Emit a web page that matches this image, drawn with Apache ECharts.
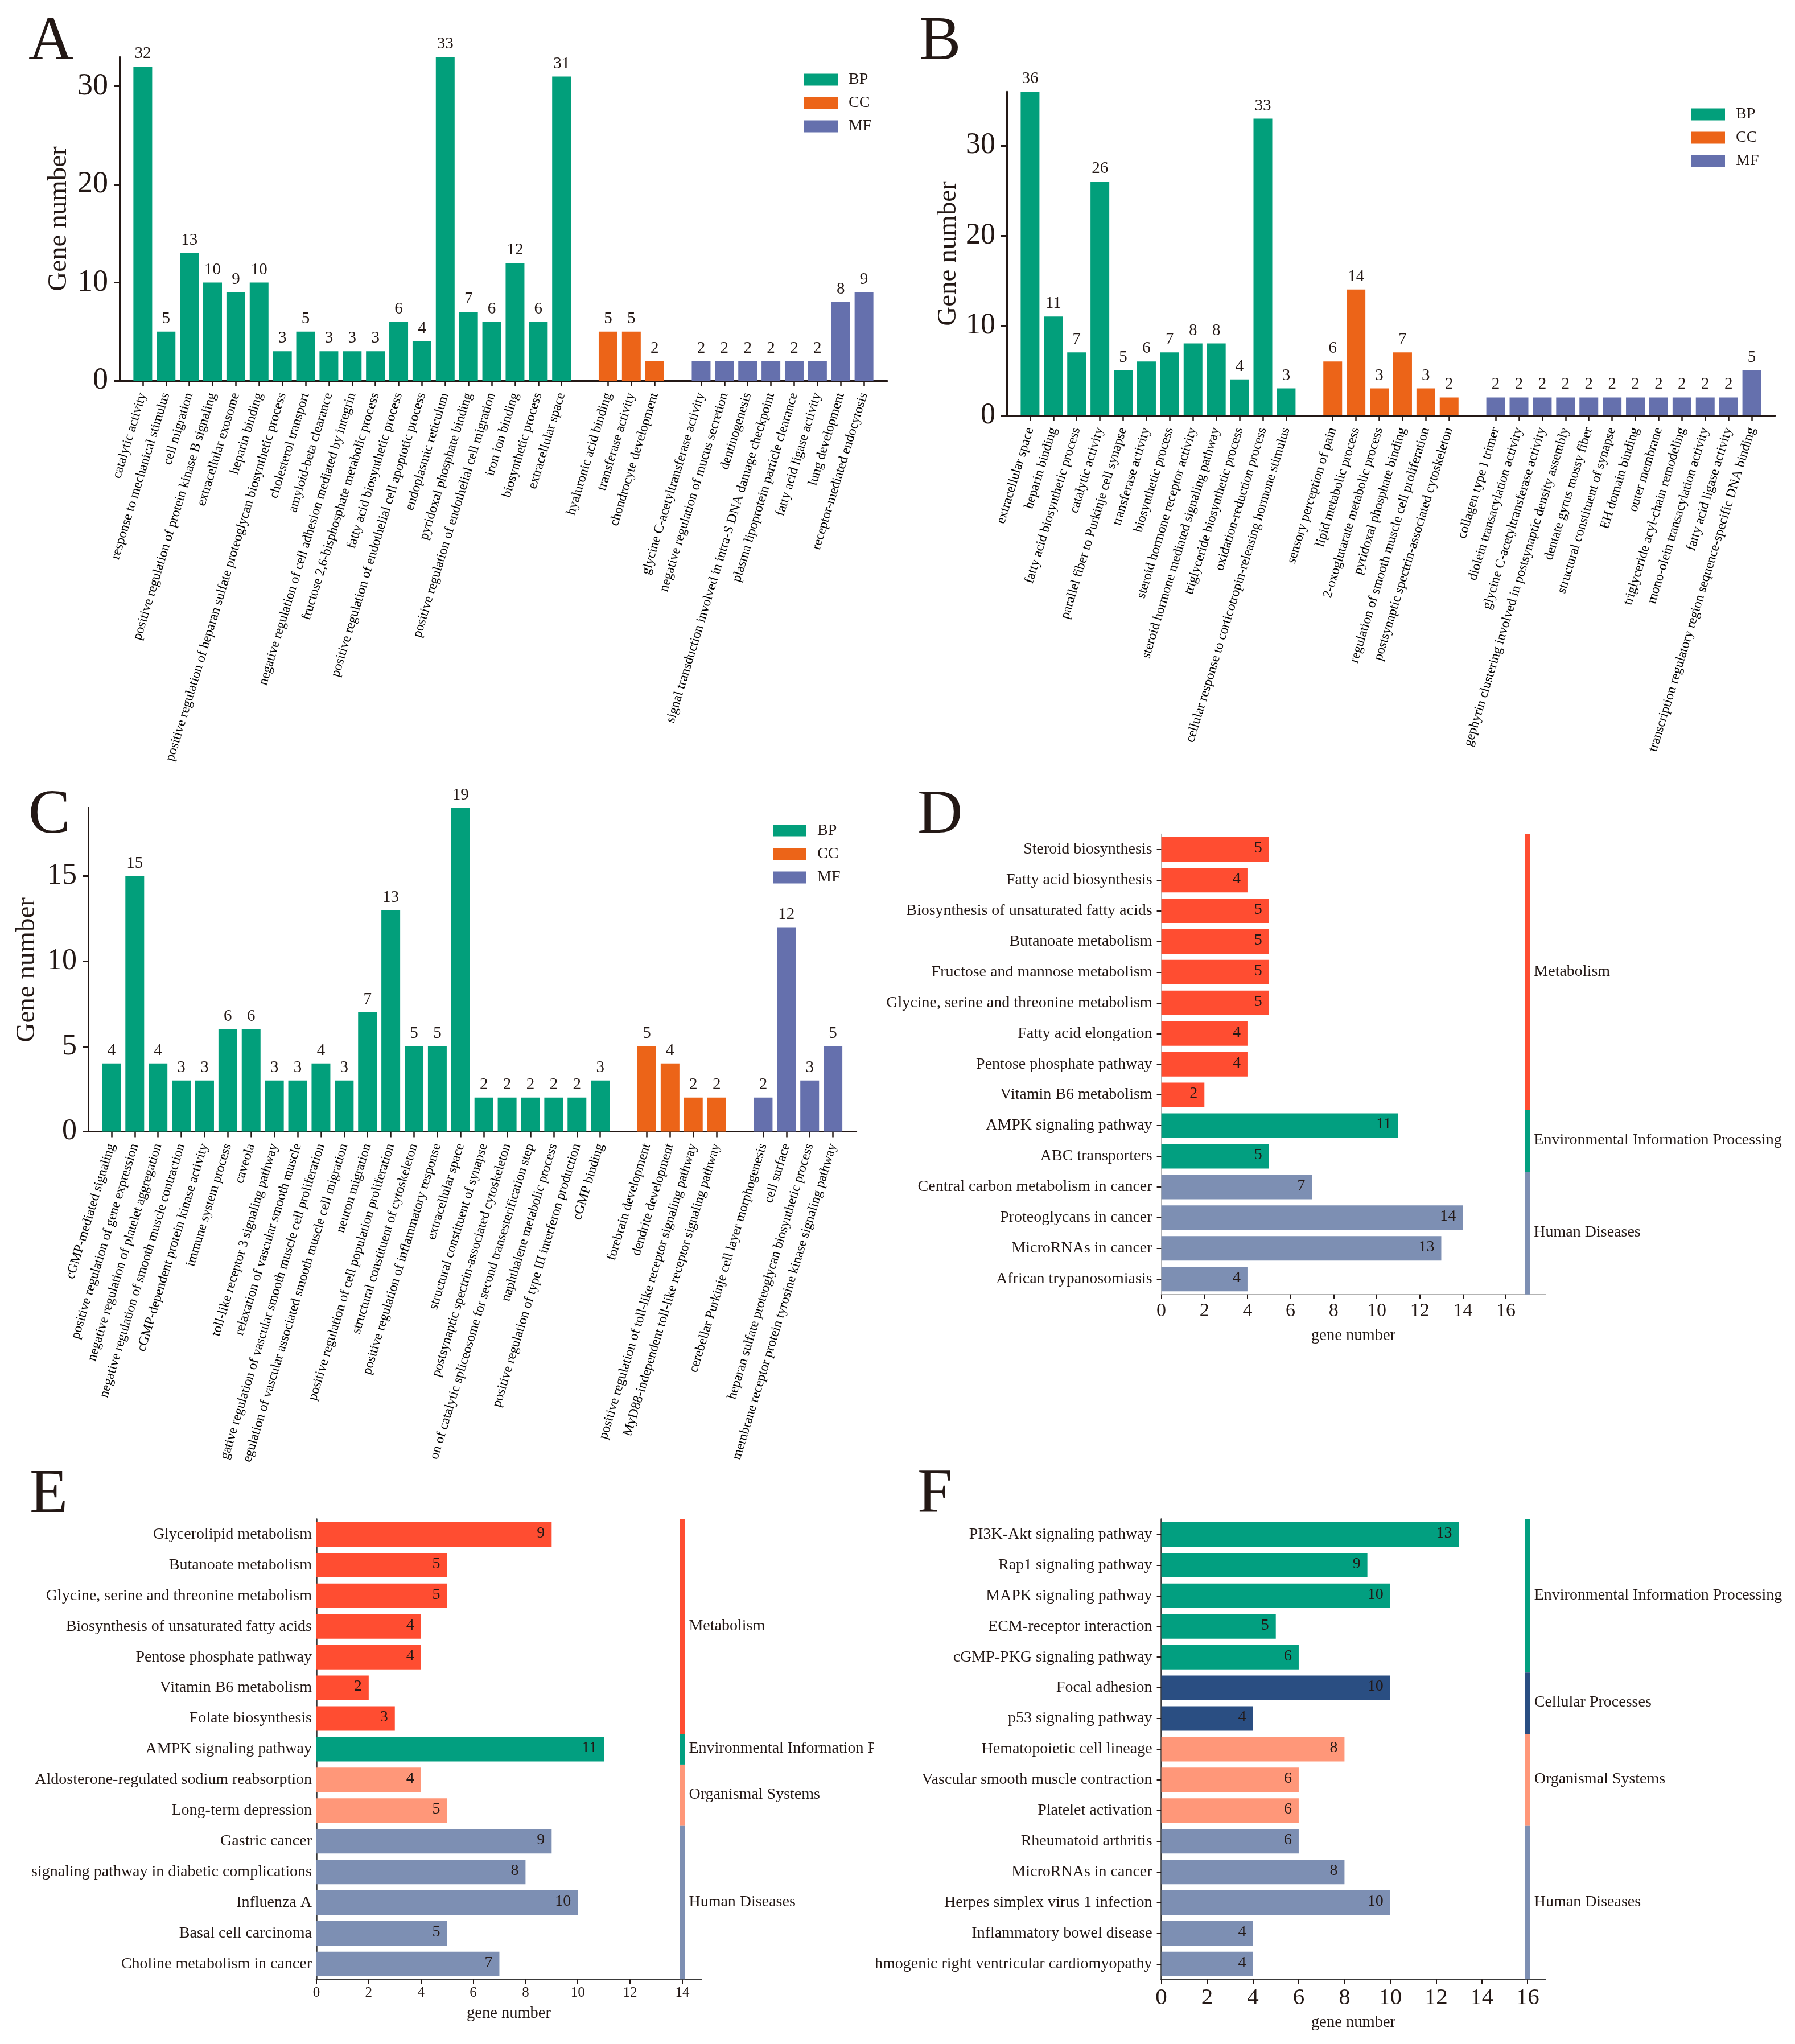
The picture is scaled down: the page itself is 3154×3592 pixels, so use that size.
<!DOCTYPE html>
<html><head><meta charset="utf-8">
<style>html,body{margin:0;padding:0;background:#fff}#c{width:3154px;height:3592px}</style>
<script src="https://cdn.jsdelivr.net/npm/echarts@6/dist/echarts.min.js"></script>
</head><body><div id="c"></div>
<script>
const aBpNames=["catalytic activity","response to mechanical stimulus","cell migration","positive regulation of protein kinase B signaling","extracellular exosome","heparin binding","positive regulation of heparan sulfate proteoglycan biosynthetic process","cholesterol transport","amyloid-beta clearance","negative regulation of cell adhesion mediated by integrin","fructose 2,6-bisphosphate metabolic process","fatty acid biosynthetic process","positive regulation of endothelial cell apoptotic process","endoplasmic reticulum","pyridoxal phosphate binding","positive regulation of endothelial cell migration","iron ion binding","biosynthetic process","extracellular space"];
const aBpValues=[32,5,13,10,9,10,3,5,3,3,3,6,4,33,7,6,12,6,31];
const aCcNames=["hyaluronic acid binding","transferase activity","chondrocyte development"];
const aCcValues=[5,5,2];
const aMfNames=["glycine C-acetyltransferase activity","negative regulation of mucus secretion","dentinogenesis","signal transduction involved in intra-S DNA damage checkpoint","plasma lipoprotein particle clearance","fatty acid ligase activity","lung development","receptor-mediated endocytosis"];
const aMfValues=[2,2,2,2,2,2,8,9];

const bBpNames=["extracellular space","heparin binding","fatty acid biosynthetic process","catalytic activity","parallel fiber to Purkinje cell synapse","transferase activity","biosynthetic process","steroid hormone receptor activity","steroid hormone mediated signaling pathway","triglyceride biosynthetic process","oxidation-reduction process","cellular response to corticotropin-releasing hormone stimulus"];
const bBpValues=[36,11,7,26,5,6,7,8,8,4,33,3];
const bCcNames=["sensory perception of pain","lipid metabolic process","2-oxoglutarate metabolic process","pyridoxal phosphate binding","regulation of smooth muscle cell proliferation","postsynaptic spectrin-associated cytoskeleton"];
const bCcValues=[6,14,3,7,3,2];
const bMfNames=["collagen type I trimer","diolein transacylation activity","glycine C-acetyltransferase activity","gephyrin clustering involved in postsynaptic density assembly","dentate gyrus mossy fiber","structural constituent of synapse","EH domain binding","outer membrane","triglyceride acyl-chain remodeling","mono-olein transacylation activity","fatty acid ligase activity","transcription regulatory region sequence-specific DNA binding"];
const bMfValues=[2,2,2,2,2,2,2,2,2,2,2,5];

const cBpNames=["cGMP-mediated signaling","positive regulation of gene expression","negative regulation of platelet aggregation","negative regulation of smooth muscle contraction","cGMP-dependent protein kinase activity","immune system process","caveola","toll-like receptor 3 signaling pathway","relaxation of vascular smooth muscle","gative regulation of vascular smooth muscle cell proliferation","egulation of vascular associated smooth muscle cell migration","neuron migration","positive regulation of cell population proliferation","structural constituent of cytoskeleton","positive regulation of inflammatory response","extracellular space","structural constituent of synapse","postsynaptic spectrin-associated cytoskeleton","on of catalytic spliceosome for second transesterification step","naphthalene metabolic process","positive regulation of type III interferon production","cGMP binding"];
const cBpValues=[4,15,4,3,3,6,6,3,3,4,3,7,13,5,5,19,2,2,2,2,2,3];
const cCcNames=["forebrain development","dendrite development","positive regulation of toll-like receptor signaling pathway","MyD88-independent toll-like receptor signaling pathway"];
const cCcValues=[5,4,2,2];
const cMfNames=["cerebellar Purkinje cell layer morphogenesis","cell surface","heparan sulfate proteoglycan biosynthetic process","membrane receptor protein tyrosine kinase signaling pathway"];
const cMfValues=[2,12,3,5];

const dNames=["Steroid biosynthesis","Fatty acid biosynthesis","Biosynthesis of unsaturated fatty acids","Butanoate metabolism","Fructose and mannose metabolism","Glycine, serine and threonine metabolism","Fatty acid elongation","Pentose phosphate pathway","Vitamin B6 metabolism","AMPK signaling pathway","ABC transporters","Central carbon metabolism in cancer","Proteoglycans in cancer","MicroRNAs in cancer","African trypanosomiasis"];
const dValues=[5,4,5,5,5,5,4,4,2,11,5,7,14,13,4];
const dGroups=["Metabolism","Environmental Information Processing","Human Diseases"];
const dGroupSizes=[9,2,4];

const eNames=["Glycerolipid metabolism","Butanoate metabolism","Glycine, serine and threonine metabolism","Biosynthesis of unsaturated fatty acids","Pentose phosphate pathway","Vitamin B6 metabolism","Folate biosynthesis","AMPK signaling pathway","Aldosterone-regulated sodium reabsorption","Long-term depression","Gastric cancer","signaling pathway in diabetic complications","Influenza A","Basal cell carcinoma","Choline metabolism in cancer"];
const eValues=[9,5,5,4,4,2,3,11,4,5,9,8,10,5,7];
const eGroups=["Metabolism","Environmental Information Processing","Organismal Systems","Human Diseases"];
const eGroupSizes=[7,1,2,5];

const fNames=["PI3K-Akt signaling pathway","Rap1 signaling pathway","MAPK signaling pathway","ECM-receptor interaction","cGMP-PKG signaling pathway","Focal adhesion","p53 signaling pathway","Hematopoietic cell lineage","Vascular smooth muscle contraction","Platelet activation","Rheumatoid arthritis","MicroRNAs in cancer","Herpes simplex virus 1 infection","Inflammatory bowel disease","hmogenic right ventricular cardiomyopathy"];
const fValues=[13,9,10,5,6,10,4,8,6,6,6,8,10,4,4];
const fGroups=["Environmental Information Processing","Cellular Processes","Organismal Systems","Human Diseases"];
const fGroupSizes=[5,2,3,5];

const goNames=["BP","CC","MF"];
const aTicks=[0,10,20,30], bTicks=[0,10,20,30], cTicks=[0,5,10,15];
const dTicks=[0,2,4,6,8,10,12,14,16], eTicks=[0,2,4,6,8,10,12,14], fTicks=[0,2,4,6,8,10,12,14,16];

const FONT='"Liberation Serif","Times New Roman",serif';
const INK='#231815';
const goColors={BP:'#029F7B',CC:'#EC6418',MF:'#6570AD'};
const groupColors={"Metabolism":'#FF4D31',"Environmental Information Processing":'#029F80',"Human Diseases":'#7D8FB3',"Organismal Systems":'#FF9779',"Cellular Processes":'#2A4E82'};

const option={animation:false,backgroundColor:'#fff',textStyle:{fontFamily:FONT},
  title:[],legend:[],grid:[],xAxis:[],yAxis:[],series:[],
  graphic:[{type:'rect',z:100,left:1536,top:3050,shape:{width:120,height:46},style:{fill:'#fff'}}]};

function letter(t,left,top){
  option.title.push({text:t,left,top,padding:0,textStyle:{fontFamily:FONT,fontWeight:'normal',fontSize:110,color:INK}});
}

function goPanel(p){
  const g=option.grid.length;
  option.grid.push({left:p.left,top:p.top,width:p.width,height:p.height,containLabel:false});
  const cats=[''];
  const rows=[];
  p.groups.forEach((gr,i)=>{
    if(i>0){cats.push('');rows.push(null);}
    gr.names.forEach((n,k)=>{cats.push(n);rows.push({go:goNames[i],v:gr.values[k]});});
  });
  cats.push('');
  option.xAxis.push({type:'category',gridIndex:g,data:cats,boundaryGap:false,
    axisLine:{onZero:false,lineStyle:{color:INK,width:3}},
    axisTick:{length:10,interval:(i,v)=>v!=='',lineStyle:{color:INK,width:2.5}},
    axisLabel:{interval:0,rotate:73,margin:22,fontFamily:FONT,fontSize:23.5,color:'#000'},splitLine:{show:false}});
  option.yAxis.push({type:'value',gridIndex:g,min:0,max:p.max,name:'Gene number',nameLocation:'middle',nameGap:p.nameGap,
    nameTextStyle:{fontFamily:FONT,fontSize:p.nameSize,color:INK},
    axisLine:{show:true,lineStyle:{color:INK,width:3}},
    axisTick:{show:true,length:10,customValues:p.ticks,lineStyle:{color:INK,width:3}},
    axisLabel:{customValues:p.ticks,margin:20,fontFamily:FONT,fontSize:p.tickSize,color:INK},splitLine:{show:false}});
  goNames.forEach(go=>{
    const data=[null].concat(rows.map(r=>r&&r.go===go?r.v:null)).concat([null]);
    option.series.push({type:'bar',name:go,xAxisIndex:g,yAxisIndex:g,data,barWidth:33,barGap:'-100%',
      itemStyle:{color:goColors[go]},
      label:{show:true,position:'top',distance:8,fontFamily:FONT,fontSize:29,color:INK}});
  });
  option.legend.push({orient:'vertical',left:p.legend[0],top:p.legend[1],itemWidth:59,itemHeight:21,itemGap:p.legend[2],
    icon:'rect',data:goNames,selectedMode:false,
    textStyle:{fontFamily:FONT,fontSize:28,color:INK,padding:[0,0,0,14]}});
}

function pathwayPanel(p){
  const g=option.grid.length;
  option.grid.push({left:p.left,top:p.top,width:p.width,height:p.height,containLabel:false});
  option.xAxis.push({type:'value',gridIndex:g,min:0,max:p.max,name:'gene number',nameLocation:'middle',nameGap:p.nameGap,
    nameTextStyle:{fontFamily:FONT,fontSize:28.5,color:INK},
    axisLine:{onZero:false,show:true,lineStyle:{color:p.axisColor,width:p.axisWidth}},
    axisTick:{show:true,length:8,customValues:p.ticks,lineStyle:{color:INK,width:2}},
    axisLabel:{customValues:p.ticks,margin:p.tickMargin,fontFamily:FONT,fontSize:p.tickSize,color:INK},splitLine:{show:false}});
  option.yAxis.push({type:'category',gridIndex:g,data:p.names,inverse:true,
    axisLine:{show:true,onZero:false,lineStyle:{color:p.axisColor,width:p.axisWidth}},
    axisTick:{show:p.yTick,length:8,alignWithLabel:true,lineStyle:{color:INK,width:2}},
    axisLabel:{interval:0,margin:p.yTick?16:8,padding:[4,0,0,0],fontFamily:FONT,fontSize:28,color:INK},splitLine:{show:false}});
  const rowColors=[];
  p.groupNames.forEach((n,i)=>{for(let k=0;k<p.groupSizes[i];k++)rowColors.push(groupColors[n]);});
  option.series.push({type:'bar',xAxisIndex:g,yAxisIndex:g,barWidth:'80%',
    data:p.values.map((v,i)=>({value:v,itemStyle:{color:rowColors[i]}})),
    label:{show:true,position:'insideRight',distance:12,offset:[0,-2],fontFamily:FONT,fontSize:28,color:INK}});
  let start=0;
  const spans=p.groupNames.map((n,i)=>{const s=[p.barAt,start,start+p.groupSizes[i]-1];start+=p.groupSizes[i];return s;});
  option.series.push({type:'custom',xAxisIndex:g,yAxisIndex:g,clip:false,z:3,data:spans,encode:{x:0,y:[1,2]},
    renderItem(params,api){
      const name=p.groupNames[params.dataIndex];
      const a=api.coord([api.value(0),api.value(1)]);
      const b=api.coord([api.value(0),api.value(2)]);
      const h=api.size([0,1])[1];
      const top=a[1]-h/2, bottom=b[1]+h/2;
      return {type:'group',children:[
        {type:'rect',shape:{x:a[0]-4.5,y:top,width:9,height:bottom-top},style:{fill:groupColors[name]}},
        {type:'text',x:a[0]+11.5,y:(top+bottom)/2-1,style:{text:name,fill:INK,font:'28px '+FONT,textAlign:'left',textVerticalAlign:'middle',verticalAlign:'middle'}}
      ]};
    }});
}

letter('A',50,20);letter('B',1615,20);letter('C',50,1379);letter('D',1612,1379);letter('E',52,2573);letter('F',1612,2573);

goPanel({left:210,top:100,width:1349,height:569,max:33,ticks:aTicks,nameGap:83,nameSize:47,tickSize:54,legend:[1408,121,13],
  groups:[{names:aBpNames,values:aBpValues},{names:aCcNames,values:aCcValues},{names:aMfNames,values:aMfValues}]});
goPanel({left:1769,top:161,width:1350,height:569,max:36,ticks:bTicks,nameGap:79,nameSize:47,tickSize:52,legend:[2967,182,13],
  groups:[{names:bBpNames,values:bBpValues},{names:bCcNames,values:bCcValues},{names:bMfNames,values:bMfValues}]});
goPanel({left:155,top:1420,width:1349.5,height:568.5,max:19,ticks:cTicks,nameGap:84,nameSize:47,tickSize:52,legend:[1353,1441,13],
  groups:[{names:cBpNames,values:cBpValues},{names:cCcNames,values:cCcValues},{names:cMfNames,values:cMfValues}]});
pathwayPanel({left:2040.6,top:1465.7,width:675,height:809,max:17.84,ticks:dTicks,barAt:17,nameGap:58,tickSize:34,tickMargin:12,axisColor:'#B3B3B3',axisWidth:2,yTick:true,
  names:dNames,values:dValues,groupNames:dGroups,groupSizes:dGroupSizes});
pathwayPanel({left:556,top:2669.6,width:676,height:808.7,max:14.72,ticks:eTicks,barAt:14,nameGap:46,tickSize:25,tickMargin:12,axisColor:'#3A3A3A',axisWidth:2.5,yTick:false,
  names:eNames,values:eValues,groupNames:eGroups,groupSizes:eGroupSizes});
pathwayPanel({left:2040.6,top:2669.6,width:675,height:808.7,max:16.78,ticks:fTicks,barAt:16,nameGap:62,tickSize:41,tickMargin:12,axisColor:'#3A3A3A',axisWidth:2.5,yTick:true,
  names:fNames,values:fValues,groupNames:fGroups,groupSizes:fGroupSizes});

const chart=echarts.init(document.getElementById('c'),null,{renderer:'canvas',width:3154,height:3592});
chart.setOption(option);
</script></body></html>
